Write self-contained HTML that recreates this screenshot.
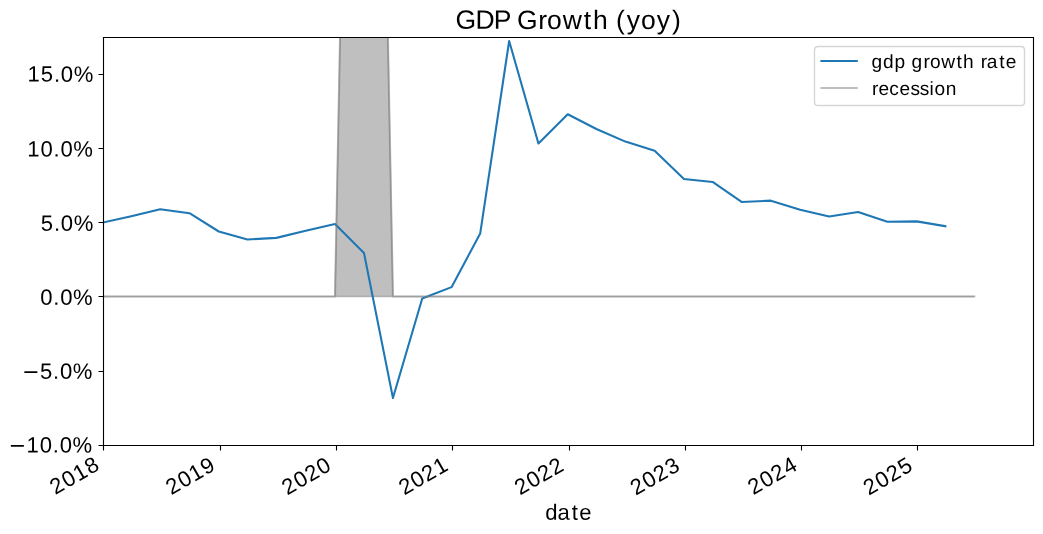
<!DOCTYPE html>
<html><head><meta charset="utf-8"><title>GDP Growth (yoy)</title>
<style>html,body{margin:0;padding:0;background:#fff;}svg{display:block;will-change:transform;}text{font-family:"Liberation Sans",sans-serif;fill:#000;}</style></head><body>
<svg width="1043" height="534" viewBox="0 0 1043 534">
<rect x="0" y="0" width="1043" height="534" fill="#fff"/>
<defs><clipPath id="ax"><rect x="103" y="37" width="930" height="408"/></clipPath></defs>
<!-- plot area -->
<g clip-path="url(#ax)">
<path d="M102.579,296.476 L102.579,296.476 L131.233,296.476 L160.206,296.476 L189.498,296.476 L218.789,296.476 L247.444,296.476 L276.417,296.476 L305.708,296.476 L334.999,296.476 L363.972,-1187.161 L392.945,296.476 L422.236,296.476 L451.528,296.476 L480.182,296.476 L509.155,296.476 L538.447,296.476 L567.738,296.476 L596.393,296.476 L625.366,296.476 L654.657,296.476 L683.948,296.476 L712.603,296.476 L741.576,296.476 L770.867,296.476 L800.158,296.476 L829.131,296.476 L858.104,296.476 L887.396,296.476 L916.687,296.476 L945.342,296.476 L974.315,296.476 L974.315,296.476 L974.315,296.476 L945.342,296.476 L916.687,296.476 L887.396,296.476 L858.104,296.476 L829.131,296.476 L800.158,296.476 L770.867,296.476 L741.576,296.476 L712.603,296.476 L683.948,296.476 L654.657,296.476 L625.366,296.476 L596.393,296.476 L567.738,296.476 L538.447,296.476 L509.155,296.476 L480.182,296.476 L451.528,296.476 L422.236,296.476 L392.945,296.476 L363.972,296.476 L334.999,296.476 L305.708,296.476 L276.417,296.476 L247.444,296.476 L218.789,296.476 L189.498,296.476 L160.206,296.476 L131.233,296.476 L102.579,296.476 Z" fill="#808080" fill-opacity="0.5" stroke="#808080" stroke-opacity="0.5" stroke-width="1.389"/>
<polyline points="102.579,222.596 131.233,216.216 160.206,209.238 189.498,213.197 218.789,231.497 247.444,239.509 276.417,237.877 305.708,230.751 334.999,223.973 363.972,252.907 392.945,397.961 422.236,298.558 451.528,287.134 480.182,233.574 509.155,40.994 538.447,143.518 567.738,114.28 596.393,128.973 625.366,141.584 654.657,150.783 683.948,178.972 712.603,181.941 741.576,201.97 770.867,200.634 800.158,209.831 829.131,216.506 858.104,212.007 887.396,221.75 916.687,221.402 945.342,226.201" fill="none" stroke="#1f77b4" stroke-width="2.083" stroke-linejoin="round" stroke-linecap="square"/>
<polyline points="102.579,296.476 131.233,296.476 160.206,296.476 189.498,296.476 218.789,296.476 247.444,296.476 276.417,296.476 305.708,296.476 334.999,296.476 363.972,-1187.161 392.945,296.476 422.236,296.476 451.528,296.476 480.182,296.476 509.155,296.476 538.447,296.476 567.738,296.476 596.393,296.476 625.366,296.476 654.657,296.476 683.948,296.476 712.603,296.476 741.576,296.476 770.867,296.476 800.158,296.476 829.131,296.476 858.104,296.476 887.396,296.476 916.687,296.476 945.342,296.476 974.315,296.476" fill="none" stroke="#808080" stroke-opacity="0.5" stroke-width="2.083" stroke-linejoin="round" stroke-linecap="square"/>
</g>
<!-- spines -->
<path d="M103.5,445.5 V37.5 M1033.5,445.5 V37.5 M103.5,445.5 H1033.5 M103.5,37.5 H1033.5" stroke="#000" stroke-width="1.111" fill="none" stroke-linecap="square"/>
<!-- ticks -->
<path d="M103.5,445.5 V450.5 M220.5,445.5 V450.5 M336.5,445.5 V450.5 M452.5,445.5 V450.5 M569.5,445.5 V450.5 M685.5,445.5 V450.5 M801.5,445.5 V450.5 M917.5,445.5 V450.5 M98.5,74.5 H103.5 M98.5,148.5 H103.5 M98.5,222.5 H103.5 M98.5,296.5 H103.5 M98.5,371.5 H103.5 M98.5,445.5 H103.5" stroke="#000" stroke-width="1.111" fill="none"/>
<!-- legend -->
<path d="M818.111,46.5 H1020.889 Q1024.5,46.5 1024.5,50.111 V101.889 Q1024.5,105.5 1020.889,105.5 H818.111 Q814.5,105.5 814.5,101.889 V50.111 Q814.5,46.5 818.111,46.5 Z" fill="#fff" fill-opacity="0.8" stroke="#ccc" stroke-opacity="0.8" stroke-width="1.389"/>
<path d="M821.417,61 H856.8" stroke="#1f77b4" stroke-width="2.083" stroke-linecap="square"/>
<path d="M821.417,88 H856.8" stroke="#808080" stroke-opacity="0.5" stroke-width="2.083" stroke-linecap="square"/>
<!-- text -->
<text transform="translate(55.105,495.195) rotate(-30)" x="0.21 13.74 26.88 40.25" y="0" font-size="22.083" text-rendering="geometricPrecision">2018</text>
<text transform="translate(170.996,495.47) rotate(-30)" x="0.21 13.74 26.88 40.18" y="0" font-size="22.083" text-rendering="geometricPrecision">2019</text>
<text transform="translate(287,495.609) rotate(-30)" x="0.21 13.74 26.72 40.25" y="0" font-size="22.083" text-rendering="geometricPrecision">2020</text>
<text transform="translate(403.968,495.493) rotate(-30)" x="0.21 13.74 26.72 40.13" y="0" font-size="22.083" text-rendering="geometricPrecision">2021</text>
<text transform="translate(519.881,495.72) rotate(-30)" x="0.21 13.74 26.72 39.97" y="0" font-size="22.083" text-rendering="geometricPrecision">2022</text>
<text transform="translate(635.671,495.82) rotate(-30)" x="0.21 13.74 26.72 40.27" y="0" font-size="22.083" text-rendering="geometricPrecision">2023</text>
<text transform="translate(753.171,495.367) rotate(-30)" x="0.21 13.74 26.72 40.24" y="0" font-size="22.083" text-rendering="geometricPrecision">2024</text>
<text transform="translate(868.525,495.865) rotate(-30)" x="0.21 13.74 26.72 40.17" y="0" font-size="22.083" text-rendering="geometricPrecision">2025</text>
<text transform="translate(544.847,519.675) rotate(0.03)" x="0.35 12.68 26.95 34.47" y="0" font-size="22.083" text-rendering="geometricPrecision">date</text>
<text transform="translate(8.678,452.5) rotate(0.03) translate(0.884,1.535) scale(1.2155,1.0985)" font-size="22.083" text-rendering="geometricPrecision">−</text>
<text transform="translate(8.678,452.5) rotate(0.03)" x="17.82 31.19 44.20 51.07 63.92" y="0" font-size="22.083" text-rendering="geometricPrecision">10.0%</text>
<text transform="translate(22.178,378.662) rotate(0.03) translate(0.884,1.535) scale(1.2155,1.0985)" font-size="22.083" text-rendering="geometricPrecision">−</text>
<text transform="translate(22.178,378.662) rotate(0.03)" x="17.86 30.94 37.81 50.67" y="0" font-size="22.083" text-rendering="geometricPrecision">5.0%</text>
<text transform="translate(39.767,304.664) rotate(0.03)" x="0.48 13.49 20.36 33.21" y="0" font-size="22.083" text-rendering="geometricPrecision">0.0%</text>
<text transform="translate(40.46,230.74) rotate(0.03)" x="0.40 13.49 20.36 33.21" y="0" font-size="22.083" text-rendering="geometricPrecision">5.0%</text>
<text transform="translate(26.809,156.512) rotate(0.03)" x="0.37 13.74 26.74 33.61 46.47" y="0" font-size="22.083" text-rendering="geometricPrecision">10.0%</text>
<text transform="translate(27.194,81.613) rotate(0.03)" x="0.37 13.66 26.74 33.61 46.47" y="0" font-size="22.083" text-rendering="geometricPrecision">15.0%</text>
<text transform="translate(456.097,28.846) rotate(0.03)" x="-0.62 19.46 37.73 53.70 61.03 82.22 91.03 106.68 127.64 136.86 152.14 159.88 170.60 184.92 200.69 215.86" y="0" font-size="26.5" text-rendering="geometricPrecision">GDP Growth (yoy)</text>
<text transform="translate(871.172,67.883) rotate(0.03)" x="0.30 11.76 23.44 34.38 40.42 52.45 58.82 70.12 85.26 91.91 102.95 109.55 115.64 128.01 134.52" y="0" font-size="19.139" text-rendering="geometricPrecision">gdp growth rate</text>
<text transform="translate(871.172,95.016) rotate(0.03)" x="0.87 7.29 18.10 28.33 39.22 48.62 58.38 63.21 74.49" y="0" font-size="19.139" text-rendering="geometricPrecision">recession</text>
</svg>
</body></html>
